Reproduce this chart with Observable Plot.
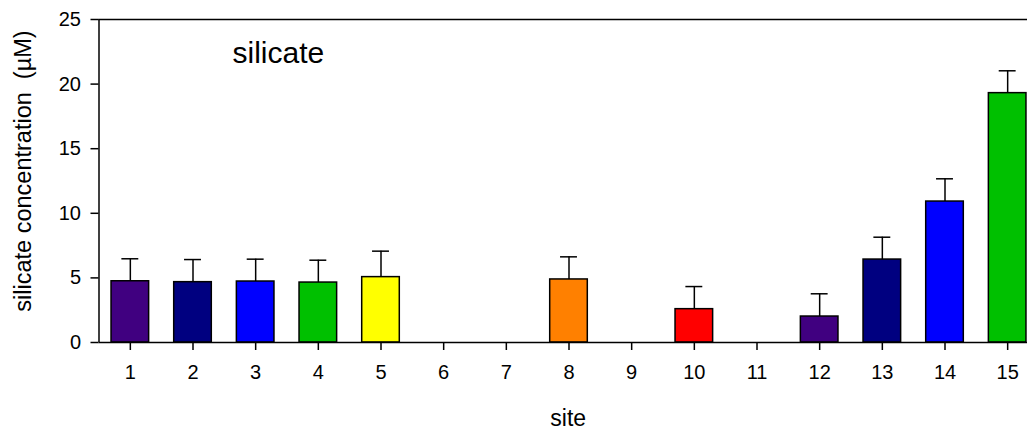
<!DOCTYPE html>
<html>
<head>
<meta charset="utf-8">
<script src="https://cdn.jsdelivr.net/npm/d3@7"></script>
<script src="https://cdn.jsdelivr.net/npm/@observablehq/plot@0.6"></script>
<style>
  html, body { margin: 0; padding: 0; background: #fff; }
  #chart svg { display: block; }
</style>
</head>
<body>
<div id="chart"></div>
<script>
const sites = [1, 2, 3, 4, 5, 6, 7, 8, 9, 10, 11, 12, 13, 14, 15];
const means = [4.74, 4.67, 4.72, 4.64, 5.06, null, null, 4.88, null, 2.58, null, 2.01, 6.42, 10.91, 19.30];
const sds   = [1.74, 1.75, 1.73, 1.73, 2.01, null, null, 1.75, null, 1.75, null, 1.76, 1.73, 1.76, 1.73];
const colors = ["#400080", "#000080", "#0000ff", "#00c000", "#ffff00", null, null, "#ff8000", null, "#ff0000", null, "#400080", "#000080", "#0000ff", "#00c000"];
const yTicks = [0, 5, 10, 15, 20, 25];
const title = "silicate";
const xLabel = "site";
const yLabel = "silicate concentration  (\u00b5M)";

const data = sites.map((s, i) => ({site: s, mean: means[i], sd: sds[i], color: colors[i]}))
  .filter(d => d.mean != null);
const halfBar = 0.3;
const halfCap = 0.135;

const font = "'Liberation Sans', Arial, sans-serif";

const chart = Plot.plot({
  width: 1027,
  height: 430,
  marginTop: 19,
  marginBottom: 88,
  marginLeft: 98.5,
  marginRight: 0,
  style: {fontFamily: font, color: "#000", background: "#fff", overflow: "hidden"},
  x: {domain: [0.5, 15.5], range: [98.5, 1038.5]},
  y: {domain: [0, 25]},
  marks: [
    Plot.rectY(data, {
      x1: d => d.site - halfBar, x2: d => d.site + halfBar,
      y1: 0, y2: "mean",
      fill: "color", stroke: "#000", strokeWidth: 1.5
    }),
    Plot.ruleX(data, {x: "site", y1: "mean", y2: d => d.mean + d.sd, stroke: "#000", strokeWidth: 1.5}),
    Plot.ruleY(data, {y: d => d.mean + d.sd, x1: d => d.site - halfCap, x2: d => d.site + halfCap, stroke: "#000", strokeWidth: 1.5}),
    Plot.ruleY([0, 25], {stroke: "#000", strokeWidth: 1.5}),
    Plot.ruleX([0.5], {stroke: "#000", strokeWidth: 1.5}),
    Plot.axisY({ticks: yTicks, tickSize: 8, tickPadding: 10, fontSize: 20, label: null, strokeWidth: 1.5}),
    Plot.axisX({ticks: sites, tickFormat: d => String(d), tickSize: 8, tickPadding: 14, fontSize: 20, label: null, strokeWidth: 1.5}),
    Plot.text([title], {frameAnchor: "top-left", textAnchor: "start", dx: 133.5, dy: 22, fontSize: 30, fill: "#000"}),
    Plot.text([xLabel], {frameAnchor: "bottom", textAnchor: "middle", dx: 5, dy: 83, fontSize: 23, fill: "#000"}),
    Plot.text([yLabel], {frameAnchor: "left", textAnchor: "middle", rotate: -90, dx: -76, dy: -10, fontSize: 23.5, fill: "#000"})
  ]
});
document.getElementById("chart").appendChild(chart);
</script>
</body>
</html>
